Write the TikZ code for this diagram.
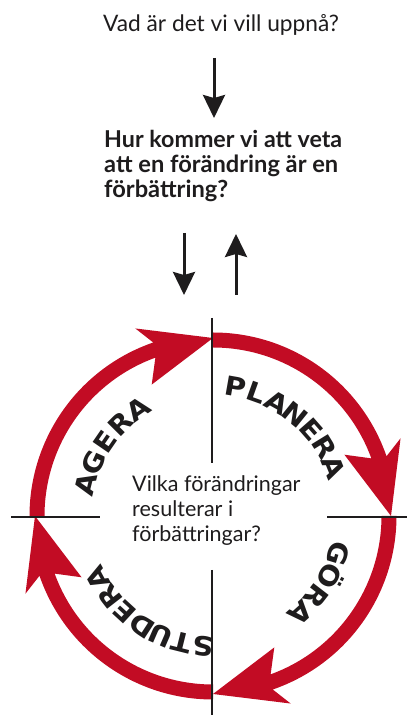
\documentclass[tikz,border=0pt]{standalone}
\usepackage{fontspec}
\setmainfont{Lato}
\newfontfamily\boldlato{Lato}[UprightFont=* Bold]
\newfontfamily\heavy{DejaVu Sans}[UprightFont=* Bold]
\usetikzlibrary{arrows.meta,calc}
\definecolor{pdsared}{RGB}{194,12,36}
\definecolor{ink}{RGB}{30,28,29}
\newsavebox\measbox
\begin{document}
\sbox\measbox{\heavy P}%
\pgfmathsetmacro\lscale{19.3/\the\ht\measbox}%
\pgfmathsetmacro\lscalex{1.1*\lscale}%
\begin{tikzpicture}[x=1pt,y=1pt,
  txt/.style={inner sep=0pt, anchor=base west, text=ink},
  regtxt/.style={txt, font=\fontsize{22.7}{26}\selectfont},
  boldtxt/.style={txt, font=\boldlato},
  midtxt/.style={txt, font=\fontsize{21.5}{24}\selectfont},
  arrowdark/.style={draw=ink, line width=3pt, -{Stealth[length=23pt,width=22pt,inset=3pt]}},
  crossline/.style={draw=ink, line width=2pt},
  cyc/.style={fill=pdsared},
  letter/.style={inner sep=0pt, anchor=base, text=ink, font=\heavy}]
\useasboundingbox (0,0) rectangle (407,715);
\fill[white] (0,0) rectangle (407,715);

% texts
\node[regtxt] (goal) at (103,683) {Vad är det vi vill uppnå?};
\node[boldtxt] (m1) at (104,567) {\resizebox{238pt}{!}{Hur kommer vi att veta}};
\node[boldtxt] (m2) at (104,542) {\resizebox{234pt}{!}{att en förändring är en}};
\node[boldtxt] (m3) at (104,517) {\resizebox{124pt}{!}{förbättring?}};
\node[midtxt] (c1) at (132,223) {Vilka förändringar};
\node[midtxt] (c2) at (132,198) {resulterar i};
\node[midtxt] (c3) at (132,173) {förbättringar?};

% top arrows
\coordinate (a1s) at (214,657);
\coordinate (a1e) at (214,597);
\coordinate (a2s) at (184,482);
\coordinate (a2e) at (184,420);
\coordinate (a3s) at (236,420);
\coordinate (a3e) at (236,481);
\draw[arrowdark] (a1s) -- (a1e);
\draw[arrowdark] (a2s) -- (a2e);
\draw[arrowdark] (a3s) -- (a3e);

% cycle
\begin{scope}[shift={(213,199)}]
  \foreach \T in {90,0,-90,180} {
    \pgfmathsetmacro\P{\T-90}
    \pgfmathsetmacro\No{\P+19}
    \pgfmathsetmacro\Ni{\P+20}
    \pgfmathsetmacro\Bo{\P+22.5}
    \pgfmathsetmacro\Bi{\P+25}
    \fill[cyc] (\T:183.5pt) arc[start angle=\T, end angle=\No, radius=183.5pt]
      -- (\Bo:203pt) -- (\P:178pt) -- (\Bi:145pt) -- (\Ni:168.5pt)
      arc[start angle=\Ni, end angle=\T, radius=168.5pt] -- cycle;
  }
  \foreach \ch [count=\i from 0] in {P,L,A,N,E,R,A} {
    \pgfmathsetmacro\ang{80-9.67*\i}
    \node[letter, rotate={\ang-90}] (pl\i) at (\ang:121pt) {\scalebox{\lscalex}[\lscale]{\ch}};
  }
  \foreach \ch [count=\i from 0] in {G,Ö,R,A} {
    \pgfmathsetmacro\ang{-17-10.33*\i}
    \node[letter, rotate={\ang-90}] (go\i) at (\ang:121pt) {\scalebox{\lscalex}[\lscale]{\ch}};
  }
  \foreach \ch [count=\i from 0] in {S,T,U,D,E,R,A} {
    \pgfmathsetmacro\ang{-94.4-9.55*\i}
    \node[letter, rotate={\ang-90}] (st\i) at (\ang:121pt) {\scalebox{\lscalex}[\lscale]{\ch}};
  }
  \foreach \ch [count=\i from 0] in {A,G,E,R,A} {
    \pgfmathsetmacro\ang{166-10.25*\i}
    \node[letter, rotate={\ang-90}] (ag\i) at (\ang:121pt) {\scalebox{\lscalex}[\lscale]{\ch}};
  }
\end{scope}

% cross lines
\coordinate (vt1) at (212,397);
\coordinate (vt2) at (212,252);
\coordinate (vb1) at (212,145);
\coordinate (vb2) at (212,0);
\coordinate (hl1) at (11,198);
\coordinate (hl2) at (100,198);
\coordinate (hr1) at (327,198);
\coordinate (hr2) at (407,198);
\draw[crossline] (vt1) -- (vt2);
\draw[crossline] (vb1) -- (vb2);
\draw[crossline] (hl1) -- (hl2);
\draw[crossline] (hr1) -- (hr2);
\end{tikzpicture}
\end{document}
